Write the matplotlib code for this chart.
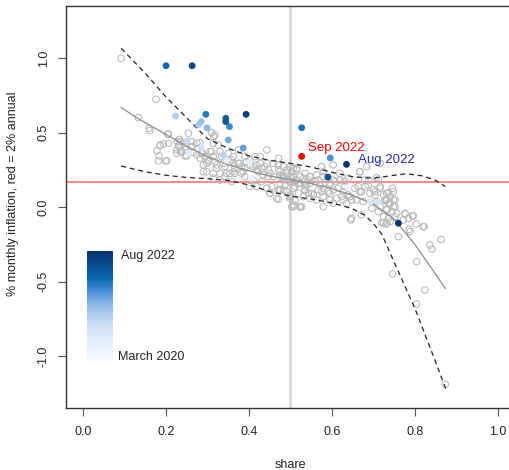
"""Monthly inflation vs share -- loess fit with bands, months coloured by date."""
import matplotlib

matplotlib.use("Agg")
import matplotlib.pyplot as plt
import numpy as np
from matplotlib.colors import LinearSegmentedColormap

plt.rcParams["font.family"] = ["Liberation Sans", "DejaVu Sans"]

# history (grey open circles)
gray_share = [
    0.092, 0.176, 0.133, 0.159, 0.204, 0.310, 0.315, 0.186, 0.194, 0.206, 0.178, 0.183, 0.182, 0.199,
    0.227, 0.231, 0.235, 0.226, 0.246, 0.248, 0.262, 0.274, 0.276, 0.266, 0.274, 0.282, 0.288, 0.294,
    0.302, 0.298, 0.310, 0.314, 0.318, 0.322, 0.330, 0.334, 0.338, 0.342, 0.350, 0.358, 0.362, 0.366,
    0.374, 0.382, 0.386, 0.390, 0.394, 0.402, 0.410, 0.418, 0.427, 0.427, 0.431, 0.443, 0.447, 0.451,
    0.459, 0.471, 0.471, 0.475, 0.479, 0.483, 0.491, 0.499, 0.507, 0.515, 0.523, 0.535, 0.543, 0.298,
    0.314, 0.330, 0.346, 0.366, 0.382, 0.402, 0.418, 0.443, 0.451, 0.471, 0.475, 0.499, 0.507, 0.523,
    0.543, 0.539,
    0.483, 0.491, 0.503, 0.515, 0.523, 0.535, 0.547, 0.563, 0.575, 0.579, 0.475, 0.487, 0.499, 0.511,
    0.523, 0.535, 0.547, 0.559, 0.571, 0.583, 0.595, 0.607, 0.619, 0.631, 0.475, 0.491, 0.507, 0.519,
    0.535, 0.551, 0.567, 0.579, 0.591, 0.603, 0.615, 0.627, 0.639, 0.655, 0.667, 0.680, 0.688, 0.667,
    0.499, 0.511, 0.523, 0.531, 0.547, 0.555, 0.563, 0.579, 0.595, 0.611, 0.627, 0.643, 0.659, 0.675,
    0.507, 0.527, 0.579, 0.603, 0.635, 0.647, 0.700, 0.716, 0.732, 0.740, 0.736, 0.748, 0.728, 0.716,
    0.732, 0.748, 0.756, 0.752, 0.776, 0.796, 0.820, 0.784, 0.707,
    0.712, 0.746, 0.736, 0.748, 0.704, 0.708, 0.728, 0.740, 0.752, 0.696, 0.712, 0.732, 0.744, 0.724,
    0.736, 0.752, 0.776, 0.794, 0.772, 0.724, 0.732, 0.803, 0.786, 0.788, 0.822, 0.760, 0.836, 0.841,
    0.863, 0.804, 0.645, 0.720, 0.730, 0.740, 0.746, 0.824, 0.804, 0.873,
    0.507, 0.515, 0.503, 0.519, 0.531, 0.547, 0.567, 0.579, 0.603, 0.619, 0.639, 0.667, 0.679, 0.687,
    0.716, 0.704, 0.724, 0.732, 0.631, 0.663, 0.671, 0.691, 0.647, 0.623, 0.595, 0.575, 0.535, 0.503,
    0.523, 0.671, 0.603, 0.684, 0.716,
    0.318, 0.314, 0.326, 0.306, 0.302, 0.290, 0.322, 0.354, 0.362, 0.374, 0.354, 0.362, 0.378, 0.390,
    0.402, 0.414, 0.418, 0.422, 0.438, 0.434, 0.446, 0.459, 0.471, 0.475, 0.483, 0.491, 0.499, 0.507,
    0.443, 0.455, 0.471, 0.467, 0.499, 0.342, 0.330, 0.314, 0.358, 0.450, 0.483, 0.390, 0.410, 0.430,
    0.161, 0.206, 0.186, 0.202, 0.234, 0.230, 0.242, 0.238, 0.250, 0.262, 0.282, 0.286, 0.290, 0.246,
    0.226, 0.254, 0.232,
]
gray_infl = [
    1.000, 0.725, 0.602, 0.530, 0.490, 0.501, 0.474, 0.414, 0.425, 0.430, 0.380, 0.345, 0.311, 0.311,
    0.441, 0.412, 0.374, 0.362, 0.345, 0.407, 0.441, 0.430, 0.396, 0.367, 0.351, 0.329, 0.362, 0.340,
    0.318, 0.295, 0.374, 0.340, 0.306, 0.284, 0.374, 0.340, 0.295, 0.273, 0.362, 0.318, 0.295, 0.262,
    0.295, 0.273, 0.239, 0.340, 0.306, 0.284, 0.273, 0.251, 0.340, 0.295, 0.262, 0.295, 0.251, 0.228,
    0.206, 0.329, 0.284, 0.239, 0.206, 0.195, 0.183, 0.206, 0.172, 0.183, 0.161, 0.172, 0.183, 0.239,
    0.228, 0.228, 0.228, 0.228, 0.228, 0.139, 0.139, 0.128, 0.094, 0.054, 0.116, 0.060, 0.016, 0.004,
    0.094, 0.150,
    0.273, 0.251, 0.239, 0.262, 0.206, 0.228, 0.206, 0.217, 0.273, 0.239, 0.161, 0.150, 0.172, 0.139,
    0.161, 0.143, 0.161, 0.172, 0.150, 0.166, 0.161, 0.172, 0.183, 0.177, 0.116, 0.105, 0.128, 0.094,
    0.116, 0.094, 0.116, 0.128, 0.105, 0.116, 0.128, 0.105, 0.083, 0.128, 0.105, 0.139, 0.183, 0.239,
    0.072, 0.049, 0.004, 0.072, 0.060, 0.083, 0.049, 0.072, 0.049, 0.060, 0.049, 0.072, 0.049, 0.038,
    0.004, 0.004, 0.004, 0.027, 0.027, -0.074, 0.116, 0.128, 0.094, 0.072, 0.027, 0.105, 0.049, 0.004,
    -0.018, 0.004, -0.040, 0.049, -0.040, -0.058, -0.130, -0.074, 0.199,
    0.188, 0.128, 0.098, 0.054, 0.083, 0.038, 0.045, 0.027, 0.004, -0.007, -0.029, -0.013, -0.029, -0.063,
    -0.074, -0.063, -0.045, -0.058, -0.085, -0.103, -0.107, -0.112, -0.148, -0.163, -0.130, -0.197, -0.253, -0.280,
    -0.217, -0.365, -0.085, -0.103, -0.112, -0.096, -0.447, -0.555, -0.649, -1.188,
    0.262, 0.251, 0.206, 0.161, 0.195, 0.206, 0.183, 0.206, 0.183, 0.228, 0.195, 0.239, 0.183, 0.150,
    0.139, 0.105, 0.083, 0.049, 0.139, 0.139, 0.105, 0.094, 0.049, 0.072, 0.094, 0.105, 0.116, 0.004,
    0.004, -0.051, 0.284, 0.273, 0.295,
    0.485, 0.430, 0.418, 0.374, 0.306, 0.284, 0.262, 0.306, 0.340, 0.385, 0.228, 0.239, 0.295, 0.262,
    0.318, 0.340, 0.284, 0.239, 0.273, 0.217, 0.206, 0.295, 0.251, 0.217, 0.206, 0.228, 0.273, 0.206,
    0.385, 0.139, 0.116, 0.060, 0.083, 0.206, 0.183, 0.195, 0.172, 0.094, 0.116, 0.206, 0.183, 0.172,
    0.515, 0.492, 0.418, 0.313, 0.441, 0.412, 0.430, 0.374, 0.345, 0.407, 0.434, 0.362, 0.239, 0.385,
    0.385, 0.497, 0.456,
]

# March 2020 .. Aug 2022, month index 0..29
col_share = [0.796, 0.742, 0.639, 0.406, 0.401, 0.346, 0.255, 0.692, 0.711, 0.285,
             0.251, 0.338, 0.223, 0.278, 0.285, 0.299, 0.350, 0.386, 0.596, 0.353,
             0.296, 0.527, 0.200, 0.344, 0.344, 0.590, 0.263, 0.393, 0.760, 0.635]
col_infl = [-0.537, -0.248, 0.132, 0.195, 0.304, 0.315, 0.362, 0.038, 0.034, 0.398,
            0.447, 0.349, 0.613, 0.554, 0.575, 0.534, 0.452, 0.398, 0.331, 0.541,
            0.624, 0.534, 0.950, 0.597, 0.575, 0.203, 0.950, 0.624, -0.107, 0.288]
col_month = list(range(30))

sep_share, sep_infl = 0.527, 0.342

# loess fit and bands
fit_x = [0.092, 0.13, 0.19, 0.25, 0.30, 0.35, 0.40, 0.45, 0.50, 0.55, 0.60, 0.65, 0.70, 0.75,
         0.80, 0.85, 0.873]
fit_y = [0.67, 0.60, 0.505, 0.41, 0.34, 0.285, 0.245, 0.21, 0.185, 0.16, 0.125, 0.08, 0.02, -0.08,
         -0.25, -0.45, -0.545]
up_x = [0.092, 0.15, 0.20, 0.25, 0.30, 0.35, 0.40, 0.45, 0.50, 0.55, 0.60, 0.65, 0.70, 0.75,
        0.78, 0.82, 0.85, 0.873]
up_y = [1.067, 0.90, 0.74, 0.60, 0.46, 0.395, 0.345, 0.315, 0.295, 0.27, 0.235, 0.205, 0.195, 0.215,
        0.225, 0.21, 0.18, 0.14]
lo_x = [0.092, 0.15, 0.20, 0.25, 0.30, 0.35, 0.40, 0.45, 0.50, 0.55, 0.60, 0.65, 0.68, 0.70,
        0.72, 0.75, 0.80, 0.85, 0.875]
lo_y = [0.277, 0.238, 0.215, 0.200, 0.192, 0.180, 0.150, 0.105, 0.075, 0.055, 0.030, -0.010, -0.055,
        -0.11, -0.18, -0.37, -0.68, -1.04, -1.225]

target = 0.02 / 12 * 100  # 2% annual, in % per month

cmap = LinearSegmentedColormap.from_list(
    "months", [(0.0, "#f7fbff"), (0.3, "#d2e3f7"), (0.5, "#93bdec"), (0.62, "#4f90da"),
               (0.75, "#0a69b2"), (1.0, "#08306b")])

fig = plt.figure(figsize=(5.1, 4.7), dpi=100)
ax = fig.add_axes([0.1302, 0.1313, 0.8788, 0.8553])

ax.axvline(0.5, color="#d9d9d9", lw=2, zorder=0)
ax.axhline(target, color="#ff8080", lw=1.3, zorder=1)

ax.scatter(gray_share, gray_infl, s=22, facecolors="none", edgecolors="#b8b8b8", linewidths=0.75, zorder=2)
ax.plot(fit_x, fit_y, color="#8c8c8c", lw=0.9, zorder=3)
ax.plot(up_x, up_y, color="#222222", lw=0.9, ls=(0, (4, 3)), zorder=3)
ax.plot(lo_x, lo_y, color="#222222", lw=0.9, ls=(0, (4, 3)), zorder=3)

ax.scatter(col_share, col_infl, c=col_month, cmap=cmap, vmin=0, vmax=29, s=24, edgecolors="none", zorder=4)
ax.scatter([sep_share], [sep_infl], color="red", s=24, edgecolors="none", zorder=4)

ax.annotate("Sep 2022", (sep_share, sep_infl), xytext=(4.3, 5.8), textcoords="offset points",
            color="red", fontsize=9.5, va="center", ha="left")
ax.annotate("Aug 2022", (col_share[29], col_infl[29]), xytext=(8.4, 3.1), textcoords="offset points",
            color="#2b2ba5", fontsize=9.5, va="center", ha="left")

ax.set_xlim(-0.04, 1.04)
ax.set_ylim(-1.349, 1.349)
ax.set_xticks([0.0, 0.2, 0.4, 0.6, 0.8, 1.0])
ax.set_xticklabels(["0.0", "0.2", "0.4", "0.6", "0.8", "1.0"])
ax.set_yticks([-1.0, -0.5, 0.0, 0.5, 1.0])
ax.set_yticklabels(["-1.0", "-0.5", "0.0", "0.5", "1.0"], rotation=90, va="center")
ax.tick_params(length=5.5, width=0.8, color="#555555", labelsize=9, labelcolor="#222222")
ax.tick_params(axis="x", pad=7)
ax.tick_params(axis="y", pad=6.5)
for side in ["left", "bottom", "top"]:
    ax.spines[side].set_color("#333333")
    ax.spines[side].set_linewidth(1)
ax.spines["right"].set_visible(False)

fig.text(290.5 / 510, 1 - 465 / 470, "share", ha="center", va="center", fontsize=9, color="#222222")
fig.text(13 / 510, 1 - 193.5 / 470, "% monthly inflation, red = 2% annual", rotation=90,
         ha="center", va="center", fontsize=9, color="#222222")

# colour legend for months
cax = fig.add_axes([86.7 / 510, 1 - 361 / 470, 26 / 510, 110.3 / 470])
cax.imshow(np.linspace(1, 0, 200).reshape(-1, 1), aspect="auto", cmap=cmap, vmin=0, vmax=1)
cax.axis("off")
fig.text(121 / 510, 1 - 256 / 470, "Aug 2022", ha="left", va="center", fontsize=9, color="#222222")
fig.text(118 / 510, 1 - 357 / 470, "March 2020", ha="left", va="center", fontsize=9, color="#222222")

fig.savefig("out.png", dpi=100)
